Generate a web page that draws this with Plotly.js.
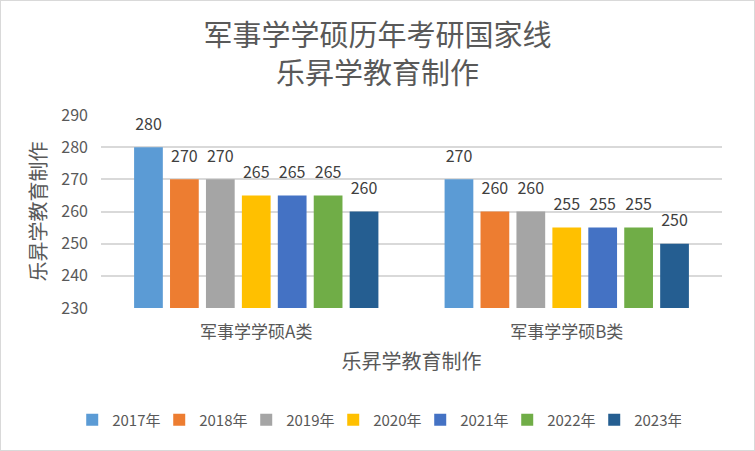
<!DOCTYPE html>
<html><head><meta charset="utf-8">
<script src="https://cdn.plot.ly/plotly-3.0.1.min.js"></script>
<style>html,body{margin:0;padding:0;background:#fff;}#c{width:755px;height:451px;}#f{position:absolute;left:0;top:0;width:755px;height:451px;box-sizing:border-box;border:1px solid #D9D9D9;pointer-events:none;}</style>
</head><body><div id="c"></div><div id="f"></div>
<script>
const categories = ['军事学学硕A类', '军事学学硕B类'];
const years = ['2017年', '2018年', '2019年', '2020年', '2021年', '2022年', '2023年'];
const v2017 = [280, 270];
const v2018 = [270, 260];
const v2019 = [270, 260];
const v2020 = [265, 255];
const v2021 = [265, 255];
const v2022 = [265, 255];
const v2023 = [260, 250];
const series = [v2017, v2018, v2019, v2020, v2021, v2022, v2023];
const colors = ['#5B9BD5', '#ED7D31', '#A5A5A5', '#FFC000', '#4472C4', '#70AD47', '#255E91'];
const F = '"Noto Sans CJK SC", "Microsoft YaHei", sans-serif';
const bars = series.map((s, i) => ({
  type: 'bar', name: years[i], x: categories, y: s.map(v => v - 230), base: 230,
  marker: {color: colors[i]}, hoverinfo: 'none', offsetgroup: 'g' + i
}));
const labels = series.map((s, i) => ({
  type: 'scatter', mode: 'markers+text', x: categories, y: s, text: s.map(String),
  textposition: 'top center', cliponaxis: false, showlegend: false, hoverinfo: 'none',
  marker: {size: 20, opacity: 0}, offsetgroup: 'g' + i,
  textfont: {family: F, size: 16, color: '#404040'}
}));
const layout = {
  width: 755, height: 451,
  margin: {l: 101, r: 33, t: 115, b: 143, autoexpand: false},
  paper_bgcolor: '#fff', plot_bgcolor: '#fff',
  font: {family: F, color: '#595959', size: 16},
  title: {text: '军事学学硕历年考研国家线<br>乐昇学教育制作', font: {family: F, size: 29, color: '#595959'}, x: 0.5, xanchor: 'center', y: 0.897, yanchor: 'middle', automargin: false},
  barmode: 'group', bargap: 0.19, bargroupgap: 0.2,
  scattermode: 'group', scattergap: 0.19,
  xaxis: {type: 'category', showgrid: false, zeroline: false, showline: false, ticks: '', ticklabelstandoff: 12, automargin: false,
    tickfont: {family: F, size: 17, color: '#595959'},
    title: {text: '乐昇学教育制作', font: {family: F, size: 20, color: '#595959'}, standoff: 12}},
  yaxis: {range: [230, 290], dtick: 10, showgrid: true, gridcolor: '#D9D9D9', gridwidth: 2, zeroline: false, showline: false, automargin: false,
    tickfont: {family: F, size: 16, color: '#595959'}, ticklabelstandoff: 12,
    title: {text: '乐昇学教育制作', font: {family: F, size: 20, color: '#595959'}, standoff: 9}},
  showlegend: true,
  legend: {orientation: 'h', x: 0.444, xanchor: 'center', y: -0.58, yanchor: 'middle',
    font: {family: F, size: 15, color: '#595959'}, itemwidth: 30, entrywidth: 42, tracegroupgap: 0}
};
Plotly.newPlot('c', bars.concat(labels), layout, {staticPlot: true});
</script></body></html>
